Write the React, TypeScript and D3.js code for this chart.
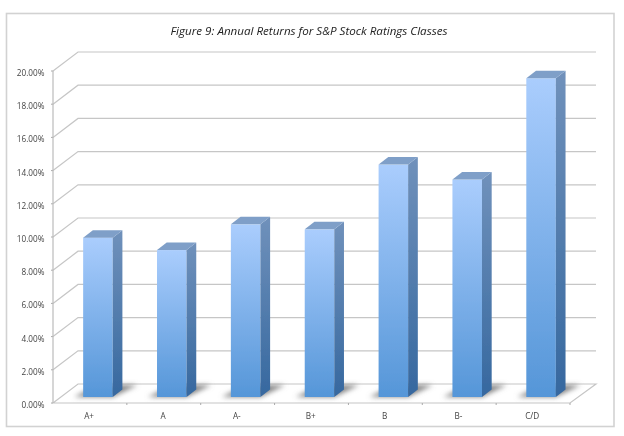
import React from "react";
import * as d3 from "d3";

const categories = ["A+", "A", "A-", "B+", "B", "B-", "C/D"];
const returns = [9.6, 8.85, 10.4, 10.1, 14.0, 13.1, 19.2];
const yTicks = [0, 2, 4, 6, 8, 10, 12, 14, 16, 18, 20];
const title = "Figure 9: Annual Returns for S&P Stock Ratings Classes";

const W = 624, H = 436;
const x0 = 53, x1 = 570, yBase = 403, yTop = 71;
const depthX = 25, depthY = 19;
const barDX = 8, barDY = 6;
const sideX = 9.7, sideY = 7.5;

const y = d3.scaleLinear().domain([0, 20]).range([yBase, yTop]);
const xBand = d3.scaleBand<string>().domain(categories).range([x0, x1]).paddingInner(0.6).paddingOuter(0.3);
const xOuter = d3.scaleBand<string>().domain(categories).range([x0, x1]);
const poly = (p: number[][]) => p.map((q) => q.join(",")).join(" ");
const fmt = (v: number) => v.toFixed(2) + "%";

export default function App() {
  const bw = xBand.bandwidth();
  return (
    <svg width={W} height={H} style={{ position: "absolute", left: 0, top: 0, background: "#fff" }} fontFamily="'Open Sans', sans-serif">
      <defs>
        <linearGradient id="front" x1="0" y1="0" x2="0" y2="1">
          <stop offset="0" stopColor="#aacdfd" />
          <stop offset="1" stopColor="#5596d8" />
        </linearGradient>
        <linearGradient id="side" x1="0" y1="0" x2="0" y2="1">
          <stop offset="0" stopColor="#7091bb" />
          <stop offset="1" stopColor="#36689f" />
        </linearGradient>
        <filter id="soft" x="-5%" y="-5%" width="110%" height="110%"><feGaussianBlur stdDeviation="0.45" /></filter>
        <filter id="shadow" x="-40%" y="-80%" width="180%" height="260%"><feGaussianBlur stdDeviation="2.4" /></filter>
      </defs>
      <rect x={6.5} y={13.5} width={607.5} height={413} fill="#fff" stroke="#d2d2d2" strokeWidth={1.6} />
      <g filter="url(#soft)">
        <text x={309} y={35} textAnchor="middle" fontSize={11.6} fontStyle="italic" fill="#222">{title}</text>
        {yTicks.map((t) => (
          <g key={t}>
            {t > 0 && <polyline points={poly([[x0, y(t)], [x0 + depthX, y(t) - depthY], [x1 + depthX + 1, y(t) - depthY]])} fill="none" stroke="#c6c6c6" strokeWidth={1.2} />}
            <line x1={x0 - 2} x2={x0} y1={y(t)} y2={y(t)} stroke="#aaa" />
            <text x={44.5} y={y(t) + 5} textAnchor="end" fontSize={8.2} fill="#444">{fmt(t)}</text>
          </g>
        ))}
        <polygon points={poly([[x0, yBase], [x0 + depthX, yBase - depthY], [x1 + depthX + 1, yBase - depthY], [x1, yBase]])} fill="#fff" stroke="#c6c6c6" strokeWidth={1.2} />
        <line x1={x0} x2={x0} y1={yTop} y2={yBase} stroke="#bbb" strokeWidth={1.2} />
        {categories.map((c, i) => {
          const tx = x0 + xOuter.step() * (i + 1);
          return <line key={c} x1={tx} x2={tx} y1={yBase} y2={yBase + 2} stroke="#aaa" />;
        })}
        {categories.map((c) => {
          const bx = (xBand(c) as number) + barDX;
          const by0 = y(0) - barDY;
          return (
            <polygon key={c} filter="url(#shadow)" fill="#858585"
              points={poly([[bx - 9, by0], [bx + bw, by0], [bx + bw + sideX + 15, by0 - 12], [bx + sideX + 5, by0 - 12]])} />
          );
        })}
        {categories.map((c, i) => {
          const bx = (xBand(c) as number) + barDX;
          const by0 = y(0) - barDY;
          const by1 = y(returns[i]) - barDY;
          return (
            <g key={c}>
              <rect x={bx} y={by1} width={bw} height={by0 - by1} fill="url(#front)" />
              <polygon fill="url(#side)" points={poly([[bx + bw, by1], [bx + bw + sideX, by1 - sideY], [bx + bw + sideX, by0 - sideY], [bx + bw, by0]])} />
              <polygon fill="#7f9fc8" points={poly([[bx, by1], [bx + sideX, by1 - sideY], [bx + bw + sideX, by1 - sideY], [bx + bw, by1]])} />
              <text x={(xOuter(c) as number) + xOuter.bandwidth() / 2 - 0.8} y={419} textAnchor="middle" fontSize={8.2} fill="#444">{c}</text>
            </g>
          );
        })}
      </g>
    </svg>
  );
}
